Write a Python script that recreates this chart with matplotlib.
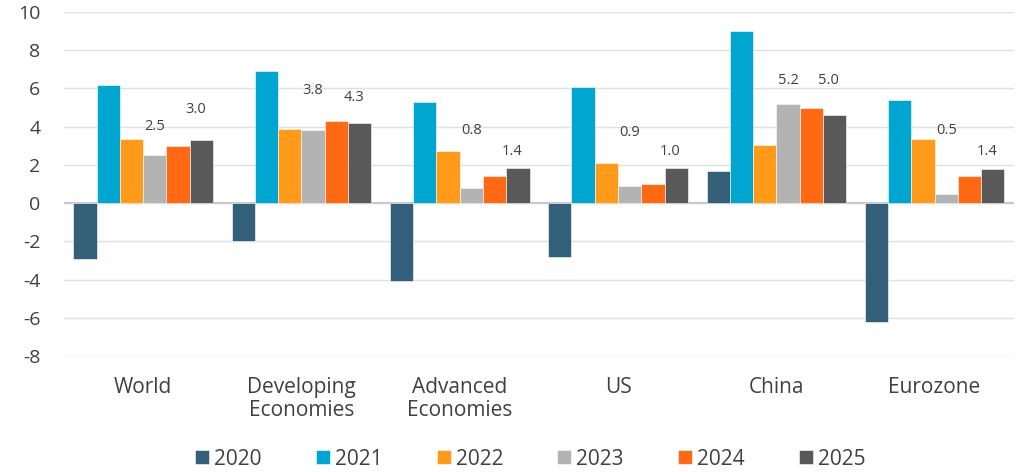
import matplotlib.pyplot as plt
import numpy as np

plt.rcParams['font.family'] = ['Open Sans', 'DejaVu Sans']
plt.rcParams['axes.unicode_minus'] = False

regions = ['World', 'Developing\nEconomies', 'Advanced\nEconomies', 'US', 'China', 'Eurozone']
years = ['2020', '2021', '2022', '2023', '2024', '2025']

g2020 = [-2.9, -2.0, -4.1, -2.8, 1.7, -6.2]
g2021 = [6.2, 6.9, 5.3, 6.1, 9.0, 5.4]
g2022 = [3.35, 3.9, 2.7, 2.1, 3.05, 3.35]
g2023 = [2.5, 3.8, 0.8, 0.9, 5.2, 0.5]
g2024 = [3.0, 4.3, 1.4, 1.0, 5.0, 1.4]
g2025 = [3.3, 4.2, 1.85, 1.85, 4.6, 1.8]

colors = ['#335f78', '#00a6cf', '#ff9a1a', '#b3b3b3', '#ff6914', '#595959']

# where the data labels sit (chart units)
lbl_a_y = [4.0, 5.9, 3.8, 3.7, 6.4, 3.8]
lbl_b_y = [4.9, 5.5, 2.7, 2.7, 6.4, 2.7]

fig = plt.figure(figsize=(10.24, 4.72), dpi=100)
ax = fig.add_axes([0.0625, 0.2458, 0.9275, 0.7288])

x = np.arange(len(regions))
w = 0.147
series = [g2020, g2021, g2022, g2023, g2024, g2025]
for i, (vals, yr) in enumerate(zip(series, years)):
    ax.bar(x + (i - 2.5) * w, vals, width=w, color=colors[i], label=yr, zorder=3,
           edgecolor='white', linewidth=0.4)

for i in range(len(regions)):
    ax.text(x[i] + 0.5 * w, lbl_a_y[i], f'{g2023[i]:.1f}', ha='center', va='center',
            fontsize=10.5, color='#404040')
    ax.text(x[i] + 2.25 * w, lbl_b_y[i], f'{g2024[i]:.1f}', ha='center', va='center',
            fontsize=10.5, color='#404040')

ax.set_xlim(-0.5, len(regions) - 0.5)
ax.set_ylim(-8, 10)
ax.set_yticks(range(-8, 11, 2))
ax.yaxis.grid(True, color='#e0e0e0', linewidth=1, zorder=0)
ax.axhline(0, color='#c8c8c8', linewidth=1.5, zorder=2)
for s in ax.spines.values():
    s.set_visible(False)
ax.tick_params(axis='both', length=0, colors='#404040')
ax.tick_params(axis='y', pad=17, labelsize=14)
ax.set_xticks(x)
ax.set_xticklabels(regions, linespacing=1.15)
ax.tick_params(axis='x', pad=15, labelsize=15)

fig.legend(loc='center', bbox_to_anchor=(0.518, 0.0275), ncol=6, frameon=False,
           fontsize=15, handlelength=0.67, handleheight=0.67, handletextpad=0.24,
           columnspacing=2.6, labelcolor='#404040')

fig.savefig('out.png', dpi=100)
